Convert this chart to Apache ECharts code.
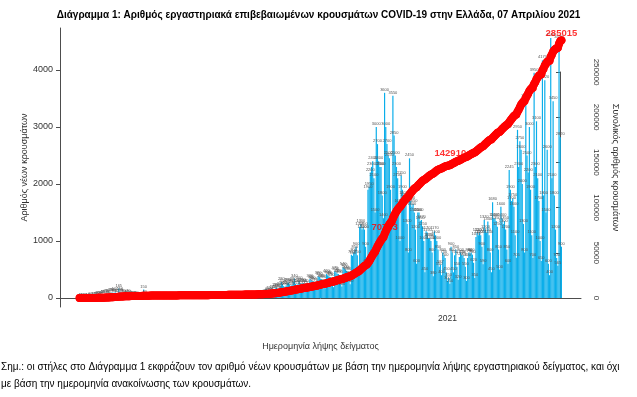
<!DOCTYPE html>
<html>
<head>
<meta charset="utf-8">
<script src="https://cdn.jsdelivr.net/npm/echarts@6/dist/echarts.min.js"></script>
<style>
html, body { margin: 0; padding: 0; background: #fff; }
#main { width: 637px; height: 397px; }
</style>
</head>
<body>
<div id="main"></div>
<script>
// ημερήσια νέα κρούσματα ανά ημερομηνία λήψης δείγματος (από 26/2/2020)
var firstDay = '2020-02-26';
var axisStart = '2020-02-10';
var axisDays = 439;
var feb2020 = [1, 2, 1, 3];
var mar2020 = [3, 2, 1, 4, 8, 12, 10, 8, 18, 22, 20, 30, 38, 30, 25, 48, 55, 60, 70, 75, 60, 55, 85, 90, 95, 80, 100, 70, 65, 165, 110];
var apr2020 = [95, 80, 70, 55, 40, 60, 70, 55, 45, 40, 30, 25, 35, 30, 28, 25, 20, 15, 20, 150, 60, 20, 15, 12, 10, 12, 15, 10, 12, 10];
var may2020 = [8, 10, 12, 6, 9, 15, 20, 12, 10, 8, 6, 18, 14, 10, 8, 5, 12, 20, 15, 9, 7, 6, 11, 8, 4, 3, 10, 14, 9, 12, 10];
var jun2020 = [5, 8, 10, 12, 6, 4, 7, 15, 20, 18, 12, 8, 25, 10, 15, 20, 30, 22, 18, 12, 9, 14, 20, 25, 18, 15, 22, 30, 17, 12];
var jul2020 = [14, 12, 20, 18, 15, 10, 22, 25, 30, 18, 14, 20, 28, 35, 40, 22, 18, 25, 30, 35, 20, 16, 25, 28, 40, 45, 38, 35, 55, 60, 70];
var aug2020 = [75, 90, 110, 120, 95, 85, 140, 150, 170, 180, 160, 130, 200, 280, 250, 210, 190, 220, 260, 270, 240, 200, 230, 280, 340, 250, 210, 240, 300, 260, 220];
var sep2020 = [260, 250, 240, 220, 180, 120, 330, 320, 300, 290, 270, 220, 150, 380, 370, 340, 330, 310, 250, 170, 420, 400, 380, 370, 350, 280, 190, 470, 450, 430];
var oct2020 = [420, 400, 300, 200, 540, 520, 500, 480, 460, 380, 240, 760, 740, 800, 850, 900, 750, 450, 1250, 1300, 1200, 1250, 1200, 900, 600, 1900, 1950, 2200, 2300, 2400, 2100];
var nov2020 = [1500, 3000, 2700, 2400, 2300, 2300, 1800, 1400, 3600, 3000, 2700, 2500, 2450, 1900, 1300, 3550, 2850, 2500, 2300, 2100, 1650, 1000, 2150, 1900, 1800, 1750, 1650, 1300, 800, 2450];
var dec2020 = [1700, 1600, 1650, 1500, 1200, 600, 1500, 1500, 1350, 1370, 1250, 1000, 450, 1170, 1150, 1050, 1050, 1000, 800, 380, 1170, 1100, 1000, 850, 550, 587, 400, 800, 750, 700, 450];
var jan2021 = [300, 350, 250, 900, 800, 450, 750, 850, 550, 320, 720, 800, 750, 750, 700, 550, 300, 700, 800, 780, 800, 760, 620, 350, 1070, 1150, 1100, 1150, 1100, 900, 590];
var feb2021 = [1370, 1200, 1150, 1340, 1100, 800, 450, 1680, 1400, 1400, 1350, 1250, 850, 500, 1600, 1400, 1300, 1350, 1200, 850, 600, 2245, 1900, 1700, 1750, 1600, 1100, 705];
var mar2021 = [2950, 2300, 2750, 2600, 2000, 1300, 800, 3500, 2500, 2200, 3000, 1900, 1100, 700, 3950, 2300, 3100, 2100, 1700, 1000, 650, 4170, 1800, 3820, 1500, 2600, 600, 400, 4560, 2100, 3450];
var apr2021 = [1800, 1200, 700, 565, 4520, 2820, 900];

var leftTicks = [0, 1000, 2000, 3000, 4000];
var yearTickDay = '2021-01-01';
var totalLabelDays = ['2020-11-09', '2020-12-26', '2021-04-07'];

var daily = [].concat(feb2020, mar2020, apr2020, may2020, jun2020, jul2020, aug2020,
	sep2020, oct2020, nov2020, dec2020, jan2021, feb2021, mar2021, apr2021);

// ημερομηνίες άξονα
var days = [];
var t0 = Date.parse(axisStart + 'T00:00:00Z');
for (var i = 0; i < axisDays; i++) {
	days.push(new Date(t0 + i * 86400000).toISOString().slice(0, 10));
}
var offset = days.indexOf(firstDay);

var barData = days.map(function(d, i) {
	var v = daily[i - offset];
	return v === undefined ? null : v;
});

// συνολικός αριθμός (αθροιστικά)
var total = 0;
var cumData = barData.map(function(v) {
	if (v === null) return null;
	total += v;
	return total;
});
// ετικέτες του συνολικού αριθμού, πάνω από τη γραμμή
var labelOffsets = [[0, 0], [10, -8], [0, 0]];
var cumLabels = days.map(function(d, i) {
	var k = totalLabelDays.indexOf(d);
	if (k < 0) return null;
	return { value: cumData[i], label: { offset: labelOffsets[k] } };
});

var axisColor = '#4d4d4d';
var font = 'Liberation Sans';
var plain = function(v) { return String(v); };

var myChart = echarts.init(document.getElementById('main'));
var option = {
	animation: false,
	title: {
		text: 'Διάγραμμα 1: Αριθμός εργαστηριακά επιβεβαιωμένων κρουσμάτων COVID-19 στην Ελλάδα, 07 Απριλίου 2021',
		left: 'center',
		top: 5,
		textStyle: { fontSize: 10, fontWeight: 'bold', color: '#000', fontFamily: font }
	},
	grid: [
		{ left: 60, right: 56, top: 28, bottom: 90 },
		{ left: 560, right: 56, top: 72, bottom: 99 }
	],
	xAxis: [{
		type: 'category',
		data: days,
		boundaryGap: true,
		axisLine: { lineStyle: { color: axisColor } },
		axisTick: {
			alignWithLabel: true,
			length: 5,
			lineStyle: { color: axisColor },
			interval: function(idx, val) { return val === yearTickDay; }
		},
		axisLabel: {
			interval: function(idx, val) { return val === yearTickDay; },
			formatter: function(val) { return val.slice(0, 4); },
			fontSize: 8.5,
			color: '#333',
			fontFamily: font,
			margin: 7
		},
		name: 'Ημερομηνία λήψης δείγματος',
		nameLocation: 'middle',
		nameGap: 35,
		nameTextStyle: { fontSize: 9, color: '#333', fontFamily: font }
	}, {
		gridIndex: 1,
		type: 'value',
		show: false
	}],
	yAxis: [{
		type: 'value',
		min: -158,
		max: 4737,
		axisLine: { show: true, lineStyle: { color: axisColor } },
		axisTick: { show: true, length: 4, customValues: leftTicks, lineStyle: { color: axisColor } },
		axisLabel: { customValues: leftTicks, formatter: plain, fontSize: 9, color: '#333', fontFamily: font, margin: 7 },
		splitLine: { show: false },
		name: 'Αριθμός νέων κρουσμάτων',
		nameLocation: 'middle',
		nameGap: 31,
		nameMoveOverlap: false,
		nameTextStyle: { fontSize: 9, color: '#333', fontFamily: font }
	}, {
		type: 'value',
		position: 'right',
		min: -9956,
		max: 298672,
		axisLine: { show: false },
		axisTick: { show: false },
		axisLabel: { show: false },
		splitLine: { show: false },
		name: 'Συνολικός αριθμός κρουσμάτων',
		nameLocation: 'middle',
		nameGap: 30,
		nameRotate: -90,
		nameMoveOverlap: false,
		nameTextStyle: { fontSize: 9, color: '#333', fontFamily: font }
	}, {
		gridIndex: 1,
		type: 'value',
		position: 'right',
		min: 0,
		max: 250000,
		interval: 50000,
		axisLine: { show: true, lineStyle: { color: axisColor } },
		axisTick: { show: true, inside: true, length: 4, lineStyle: { color: axisColor } },
		axisLabel: { rotate: -90, formatter: plain, fontSize: 8, color: '#333', fontFamily: font, margin: 11 },
		splitLine: { show: false }
	}],
	series: [{
		name: 'Νέα κρούσματα',
		type: 'bar',
		data: barData,
		barCategoryGap: '0%',
		itemStyle: { color: '#0aaeea' },
		label: {
			show: true,
			position: 'top',
			distance: 1,
			fontSize: 4,
			color: '#555',
			fontFamily: font
		}
	}, {
		name: 'Συνολικός αριθμός',
		type: 'line',
		yAxisIndex: 1,
		data: cumData,
		symbol: 'circle',
		symbolSize: 8,
		showAllSymbol: true,
		itemStyle: { color: '#ff0000' },
		lineStyle: { color: '#ff0000', width: 8, cap: 'round', join: 'round' },
		z: 5
	}, {
		name: 'Ετικέτες',
		type: 'scatter',
		yAxisIndex: 1,
		data: cumLabels,
		symbolSize: 0,
		silent: true,
		z: 10,
		label: {
			show: true,
			position: 'top',
			distance: 2,
			color: '#ff0000',
			fontWeight: 'bold',
			fontSize: 9.5,
			fontFamily: font
		}
	}],
	graphic: [{
		type: 'text',
		left: 1,
		top: 359,
		style: {
			text: 'Σημ.: οι στήλες στο Διάγραμμα 1 εκφράζουν τον αριθμό νέων κρουσμάτων με βάση την ημερομηνία λήψης εργαστηριακού δείγματος, και όχι\nμε βάση την ημερομηνία ανακοίνωσης των κρουσμάτων.',
			fontSize: 10,
			lineHeight: 17,
			fill: '#000',
			fontFamily: font
		}
	}]
};
myChart.setOption(option);
</script>
</body>
</html>
